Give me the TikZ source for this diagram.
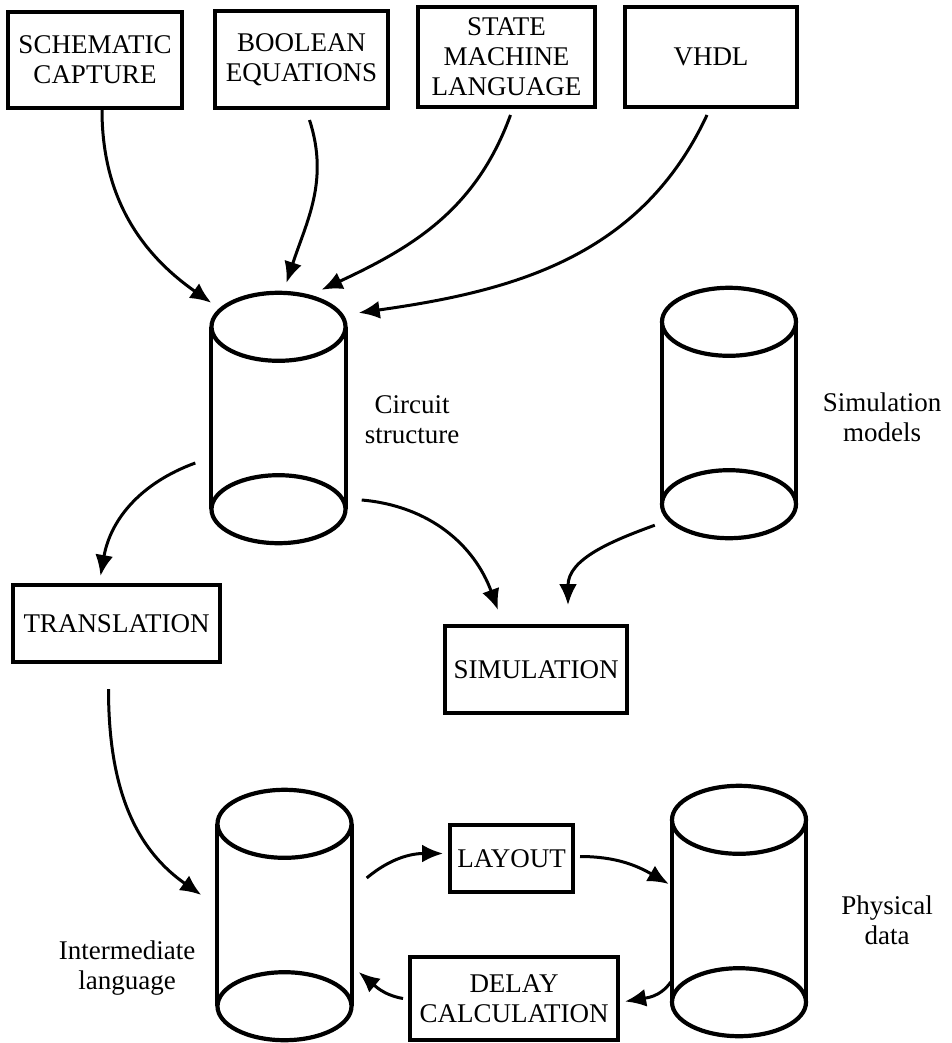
\documentclass[tikz,border=0pt]{standalone}
\usepackage{fontspec}
\setmainfont{Liberation Serif}
\usetikzlibrary{arrows.meta}
\tikzset{%
  % Specifications for style of nodes:
        base/.style = {rectangle, draw=black, line width=4pt, inner sep=0pt,
                       align=center, font=\fontsize{27}{30}\selectfont},
       store/.style = {rectangle, draw=none, inner sep=0pt,
                       minimum width=134pt, minimum height=250pt},
       label/.style = {align=center, font=\fontsize{27}{30}\selectfont},
        flow/.style = {-{Latex[width=18pt,length=21pt]}, line width=3pt},
}

\begin{document}
\begin{tikzpicture}[x=1pt, y=1pt]
  \useasboundingbox (0,0) rectangle (951,-1043);
  % Specification of nodes (position, etc.)
  \node (schem)  [base, minimum width=174pt, minimum height=96pt]  at (95,-60)
                 {SCHEMATIC\\CAPTURE};
  \node (bool)   [base, minimum width=173pt, minimum height=97pt]  at (301.5,-59.5)
                 {BOOLEAN\\EQUATIONS};
  \node (state)  [base, minimum width=177pt, minimum height=100pt] at (506.5,-57)
                 {STATE\\MACHINE\\LANGUAGE};
  \node (vhdl)   [base, minimum width=172pt, minimum height=100pt] at (711,-57)
                 {VHDL};

  \node (circ)   [store] at (278.5,-418) {};
  \node (simmod) [store] at (729,-413) {};
  \node (interm) [store] at (284.5,-915) {};
  \node (phys)   [store] at (739,-911) {};

  \node (circLbl)   [label] at (412,-420) {Circuit\\structure};
  \node (simmodLbl) [label] at (882,-417) {Simulation\\models};
  \node (intermLbl) [label] at (127,-968) {Intermediate\\language};
  \node (physLbl)   [label] at (887,-920) {Physical\\data};

  \node (transl) [base, minimum width=207pt, minimum height=77pt] at (116.5,-623.5)
                 {TRANSLATION};
  \node (simul)  [base, minimum width=182pt, minimum height=87pt] at (536,-669.5)
                 {SIMULATION};
  \node (layout) [base, minimum width=123pt, minimum height=67pt] at (511.5,-858.5)
                 {LAYOUT};
  \node (delay)  [base, minimum width=208pt, minimum height=83pt] at (514,-998.5)
                 {DELAY\\CALCULATION};

  % the data stores drawn as cylinders
  \foreach \s in {circ,simmod,interm,phys}{
    \draw[line width=4.2pt] ([yshift=-34pt]\s.north) ellipse (67pt and 34pt);
    \draw[line width=4.2pt] ([yshift=34pt]\s.south) ellipse (67pt and 34pt);
    \draw[line width=4.2pt] ([yshift=-34pt]\s.north west) -- ([yshift=34pt]\s.south west);
    \draw[line width=4.2pt] ([yshift=-34pt]\s.north east) -- ([yshift=34pt]\s.south east);
  }

  % Specification of lines between nodes specified above
  \draw[flow] ([xshift=7pt]schem.south) to[out=-90, in=145]
              ([yshift=-10pt]circ.north west);
  \draw[flow] ([xshift=8pt,yshift=-10pt]bool.south) to[out=-72, in=72]
              ([xshift=8pt,yshift=10pt]circ.north);
  \draw[flow] ([xshift=4pt,yshift=-6pt]state.south) to[out=-110, in=25]
              ([xshift=43pt,yshift=3pt]circ.north);
  \draw[flow] ([xshift=-4pt,yshift=-6pt]vhdl.south) to[out=-115, in=8]
              ([xshift=13pt,yshift=-20pt]circ.north east);

  \draw[flow] ([xshift=-16pt,yshift=-45pt]circ.west) to[out=200, in=80]
              ([xshift=-16pt,yshift=7pt]transl.north);
  \draw[flow] ([xshift=16pt,yshift=-82pt]circ.east) to[out=-5, in=110]
              ([xshift=-38pt,yshift=14pt]simul.north);
  \draw[flow] ([xshift=-7pt,yshift=13pt]simmod.south west) to[out=200, in=90]
              ([xshift=32pt,yshift=19pt]simul.north);

  \draw[flow] ([xshift=-8pt,yshift=-25pt]transl.south) to[out=-90, in=145]
              ([xshift=-16pt,yshift=20pt]interm.west);
  \draw[flow] ([xshift=15pt,yshift=37pt]interm.east) to[out=40, in=180]
              ([xshift=-5pt,yshift=5pt]layout.west);
  \draw[flow] ([xshift=5pt,yshift=2pt]layout.east) to[out=0, in=150]
              ([xshift=-3pt,yshift=27pt]phys.west);
  \draw[flow] ([xshift=-1pt,yshift=-71pt]phys.west) to[out=235, in=10]
              ([xshift=5pt,yshift=-3pt]delay.east);
  \draw[flow] ([xshift=-5pt]delay.west) to[out=170, in=-40]
              ([xshift=7pt,yshift=-57pt]interm.east);
\end{tikzpicture}
\end{document}
